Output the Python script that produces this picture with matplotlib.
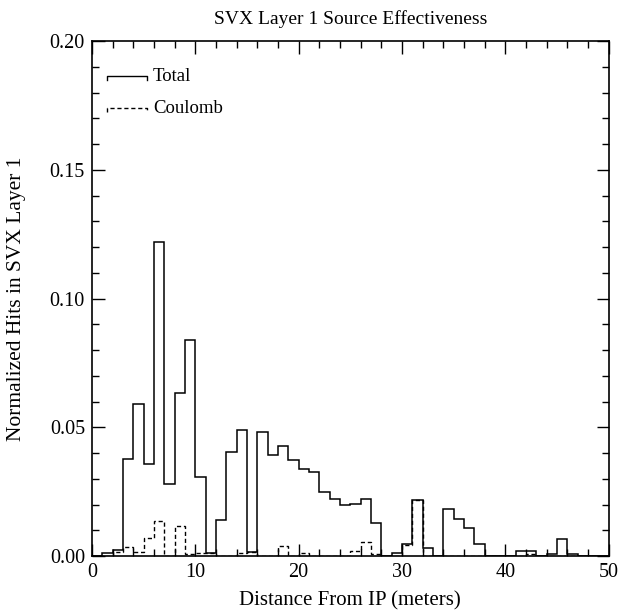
import numpy as np
import matplotlib
matplotlib.use("Agg")
import matplotlib.pyplot as plt

plt.rcParams['font.family'] = ['Liberation Serif', 'DejaVu Serif']

# 1 m bins from 0 to 50
edges = np.arange(0, 51, 1)

total = [0.0, 0.0012, 0.0024, 0.0375, 0.0592, 0.0359, 0.122, 0.0281, 0.0632, 0.0838,
         0.0306, 0.0013, 0.014, 0.0405, 0.0488, 0.0016, 0.048, 0.0392, 0.0428, 0.0372,
         0.0338, 0.0325, 0.0247, 0.0223, 0.0197, 0.0201, 0.022, 0.0127, 0.0, 0.0012,
         0.0048, 0.0217, 0.003, 0.0, 0.0181, 0.0142, 0.0109, 0.0046, 0.0, 0.0,
         0.0, 0.002, 0.002, 0.0, 0.0008, 0.0065, 0.0008, 0.0, 0.0, 0.0]

coulomb = [0.0, 0.0, 0.0015, 0.0034, 0.0014, 0.007, 0.0136, 0.0, 0.0118, 0.0006,
           0.0012, 0.0012, 0.0, 0.0, 0.001, 0.0016, 0.0, 0.0, 0.004, 0.0,
           0.001, 0.0, 0.0, 0.0, 0.0, 0.002, 0.0056, 0.0006, 0.0, 0.0,
           0.0043, 0.0217, 0.0, 0.0, 0.0, 0.0, 0.0, 0.0, 0.0, 0.0,
           0.0, 0.0, 0.0008, 0.0, 0.0, 0.0, 0.0, 0.0, 0.0, 0.0]

fig = plt.figure(figsize=(6.25, 6.12), dpi=100)
ax = fig.add_axes([0.147, 0.0915, 0.827, 0.8415])

ax.stairs(total, edges, color="black", linewidth=1.1)
ax.stairs(coulomb, edges, color="black", linewidth=1.0, linestyle=(0, (3, 2)))

ax.set_xlim(0, 50)
ax.set_ylim(0, 0.20)
ax.set_xticks(np.arange(0, 51, 10))
ax.set_xticks(np.arange(0, 51, 2), minor=True)
ax.set_yticks(np.arange(0, 0.201, 0.05))
ax.set_yticks(np.arange(0, 0.201, 0.01), minor=True)
ax.set_yticklabels(["0.00", "0.05", "0.10", "0.15", "0.20"])
ax.tick_params(which="both", direction="in", top=True, right=True, labelsize=14.5, width=1)
ax.tick_params(which="major", length=9, pad=5)
ax.tick_params(which="minor", length=5)
for s in ax.spines.values():
    s.set_linewidth(1.2)

ax.set_title("SVX Layer 1 Source Effectiveness", fontsize=14, pad=12)
ax.set_xlabel("Distance From IP (meters)", fontsize=15, labelpad=7)
ax.set_ylabel("Normalized Hits in SVX Layer 1", fontsize=15.5, labelpad=17)

# legend drawn IDL style
tr = ax.transAxes
ax.plot([0.029, 0.029, 0.106, 0.106], [0.924, 0.932, 0.932, 0.924], color="black",
        linewidth=1.0, transform=tr)
ax.plot([0.029, 0.029, 0.106, 0.106], [0.862, 0.870, 0.870, 0.862], color="black",
        linewidth=1.0, linestyle=(0, (3, 2)), transform=tr)
ax.text(0.118, 0.932, "Total", fontsize=13.5, va="center", ha="left", transform=tr)
ax.text(0.118, 0.868, "Coulomb", fontsize=13.5, va="center", ha="left", transform=tr)

fig.savefig("out.png", dpi=100)
